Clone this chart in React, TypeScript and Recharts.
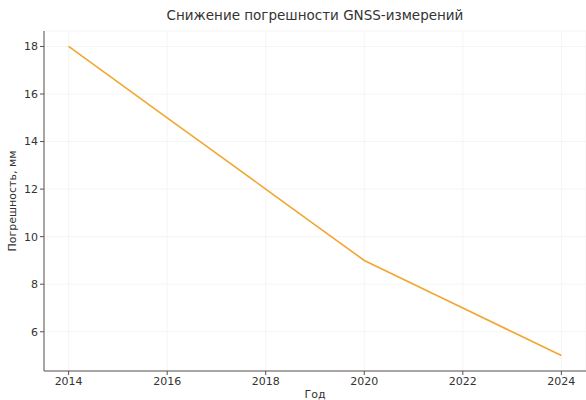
import React from 'react';
import { LineChart, Line, XAxis, YAxis, CartesianGrid } from 'recharts';

const years = [2014, 2015, 2016, 2017, 2018, 2019, 2020, 2021, 2022, 2023, 2024];
const errorMm = [18, 16.5, 15, 13.5, 12, 10.5, 9, 8, 7, 6, 5];
const xTicks = [2014, 2016, 2018, 2020, 2022, 2024];
const yTicks = [6, 8, 10, 12, 14, 16, 18];

const data = years.map((year, i) => ({ year, value: errorMm[i] }));

const font = 'DejaVu Sans, sans-serif';
const axisColor = '#5a5050';

export default function App() {
  return (
    <div
      style={{
        position: 'absolute',
        left: 0,
        top: 0,
        width: 586,
        height: 400,
        background: '#fff',
        fontFamily: font,
      }}
    >
      {/* заголовок */}
      <div
        style={{
          position: 'absolute',
          top: 7,
          left: 44,
          width: 542,
          textAlign: 'center',
          fontSize: 13.5,
          color: '#333',
        }}
      >
        Снижение погрешности GNSS-измерений
      </div>
      <LineChart
        width={586}
        height={400}
        data={data}
        margin={{ top: 31, right: 0, bottom: 0, left: 0 }}
      >
        <CartesianGrid stroke="#f2f2f2" strokeWidth={0.8} />
        <XAxis
          dataKey="year"
          type="number"
          domain={[2013.5, 2024.5]}
          ticks={xTicks}
          height={29}
          stroke={axisColor}
          tickSize={4}
          tick={{ fill: '#333', fontSize: 11, fontFamily: font }}
          label={{
            value: 'Год',
            position: 'insideBottom',
            offset: 2,
            fill: '#333',
            fontSize: 11,
            fontFamily: font,
          }}
        />
        <YAxis
          type="number"
          domain={[4.35, 18.65]}
          ticks={yTicks}
          width={44}
          stroke={axisColor}
          tickSize={4}
          tick={{ fill: '#333', fontSize: 11, fontFamily: font }}
          label={{
            value: 'Погрешность, мм',
            angle: -90,
            position: 'insideLeft',
            offset: 12,
            style: { textAnchor: 'middle' },
            fill: '#333',
            fontSize: 11,
            fontFamily: font,
          }}
        />
        <Line
          type="linear"
          dataKey="value"
          stroke="#f2a62e"
          strokeWidth={1.6}
          dot={false}
          isAnimationActive={false}
        />
      </LineChart>
    </div>
  );
}
